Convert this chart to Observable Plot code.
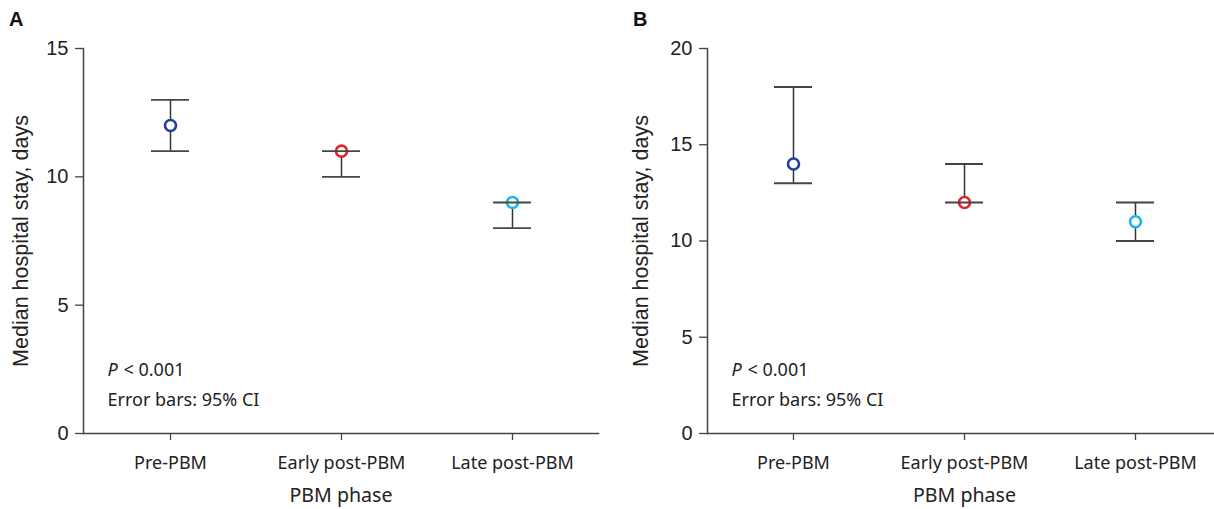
<!DOCTYPE html>
<html>
<head>
<meta charset="utf-8">
<script src="https://cdn.jsdelivr.net/npm/d3@7"></script>
<script src="https://cdn.jsdelivr.net/npm/@observablehq/plot@0.6"></script>
<style>
  html, body { margin: 0; padding: 0; background: #fff; }
  #wrap { position: relative; width: 1214px; height: 509px; overflow: hidden; background: #fff; }
  .panel { position: absolute; top: 0; height: 509px; }
  .panel svg { max-width: none !important; display: block; }
  .letter { position: absolute; top: 8px; font: bold 20px "Liberation Sans", Arial, sans-serif; color: #111; }
</style>
</head>
<body>
<div id="wrap">
  <div class="panel" id="pa" style="left:0px; width:607px"></div>
  <div class="panel" id="pb" style="left:607px; width:614px"></div>
  <div class="letter" style="left:9px">A</div>
  <div class="letter" style="left:633px">B</div>
</div>
<script>
const phases = ["Pre-PBM", "Early post-PBM", "Late post-PBM"];
const colors = ["#22409a", "#e0232b", "#1bb5ec"];

const medianA = [12, 11, 9];
const lowerA  = [11, 10, 8];
const upperA  = [13, 11, 9];

const medianB = [14, 12, 11];
const lowerB  = [13, 12, 10];
const upperB  = [18, 14, 12];

const yTicksA = [0, 5, 10, 15];
const yTicksB = [0, 5, 10, 15, 20];

const yLabel = "Median hospital stay, days";
const xLabel = "PBM phase";
const pText = "< 0.001";
const ciText = "Error bars: 95% CI";

function rows(med, lo, hi) {
  return phases.map((p, i) => ({phase: p, med: med[i], lo: lo[i], hi: hi[i], color: colors[i]}));
}

function panel(data, yMax, yTicks, opts) {
  const arial = "Liberation Sans, Arial, sans-serif";
  const noto = "Noto Sans, sans-serif";
  return Plot.plot({
    width: opts.width,
    height: 509,
    marginTop: 48,
    marginBottom: 76,
    marginLeft: opts.marginLeft,
    marginRight: opts.marginRight,
    style: {background: "#fff", color: "#333", maxWidth: "none"},
    x: {domain: phases, paddingInner: 0.778, paddingOuter: 0.389},
    y: {domain: [0, yMax]},
    color: {type: "identity"},
    marks: [
      Plot.frame({anchor: "left", stroke: "#444", strokeWidth: 1.5}),
      Plot.frame({anchor: "bottom", stroke: "#444", strokeWidth: 1.5}),
      Plot.axisY({ticks: yTicks, tickSize: 8, tickPadding: 7, fontSize: 20, fontFamily: arial, label: null, stroke: "#444", strokeWidth: 1.3, fill: "#222"}),
      Plot.axisX({tickSize: 7, tickPadding: 16, fontSize: 18, fontFamily: noto, label: null, stroke: "#444", strokeWidth: 1.3, fill: "#222"}),
      Plot.text([yLabel], {frameAnchor: "left", textAnchor: "middle", lineAnchor: "middle", rotate: -90, dx: opts.yLabelDx, fontSize: 21.5, fontFamily: arial, fill: "#222"}),
      Plot.text([xLabel], {frameAnchor: "bottom", textAnchor: "middle", lineAnchor: "middle", dy: 62, fontSize: 19.6, fontFamily: noto, fill: "#222"}),
      Plot.text(["P"], {frameAnchor: "bottom-left", textAnchor: "start", lineAnchor: "middle", dx: 24, dy: -63, fontSize: 18, fontStyle: "italic", fontFamily: noto, fill: "#222"}),
      Plot.text([pText], {frameAnchor: "bottom-left", textAnchor: "start", lineAnchor: "middle", dx: 40, dy: -63, fontSize: 18, fontFamily: noto, fill: "#222"}),
      Plot.text([ciText], {frameAnchor: "bottom-left", textAnchor: "start", lineAnchor: "middle", dx: 24, dy: -33, fontSize: 18, fontFamily: noto, fill: "#222"}),
      Plot.ruleX(data, {x: "phase", y1: "lo", y2: "hi", stroke: "#333", strokeWidth: 1.5}),
      Plot.dot(data, {x: "phase", y: "med", r: 5.5, stroke: "color", strokeWidth: 2.6, fill: "white"}),
      Plot.tickY(data, {x: "phase", y: "lo", stroke: "#444", strokeWidth: 1.8}),
      Plot.tickY(data, {x: "phase", y: "hi", stroke: "#444", strokeWidth: 1.8})
    ]
  });
}

document.getElementById("pa").appendChild(
  panel(rows(medianA, lowerA, upperA), 15, yTicksA, {width: 607, marginLeft: 83, marginRight: 9, yLabelDx: -62})
);
document.getElementById("pb").appendChild(
  panel(rows(medianB, lowerB, upperB), 20, yTicksB, {width: 614, marginLeft: 100, marginRight: 0, yLabelDx: -66})
);
</script>
</body>
</html>
